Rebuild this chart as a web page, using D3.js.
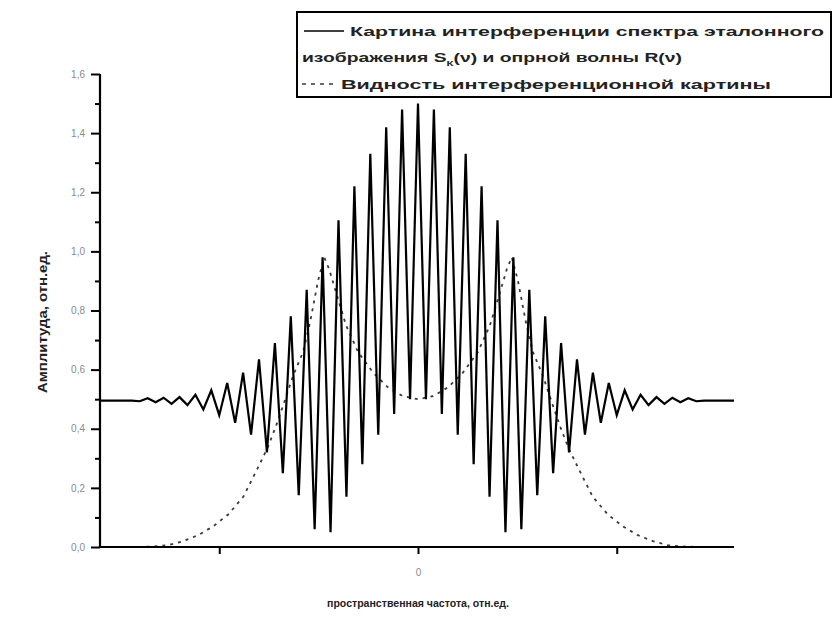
<!DOCTYPE html>
<html><head><meta charset="utf-8">
<script src="https://cdn.jsdelivr.net/npm/d3@7"></script>
<style>
html,body{margin:0;padding:0;background:#fff;}
svg{display:block;}
text{font-family:"Liberation Sans",Arial,sans-serif;}
</style></head>
<body>
<svg id="c" width="833" height="619"></svg>
<script>
// ---- data ----
const peakX = [-1.36,-1.28,-1.20,-1.12,-1.04,-0.96,-0.88,-0.80,-0.72,-0.64,-0.56,-0.48,-0.40,-0.32,-0.24,-0.16,-0.08,0,
  0.08,0.16,0.24,0.32,0.40,0.48,0.56,0.64,0.72,0.80,0.88,0.96,1.04,1.12,1.20,1.28,1.36];
const peakY = [0.503,0.505,0.507,0.515,0.53,0.555,0.59,0.635,0.69,0.78,0.87,0.98,1.105,1.22,1.33,1.42,1.48,1.50,
  1.48,1.42,1.33,1.22,1.105,0.98,0.87,0.78,0.69,0.635,0.59,0.555,0.53,0.515,0.507,0.505,0.503];
const troughX = [-1.40,-1.32,-1.24,-1.16,-1.08,-1.00,-0.92,-0.84,-0.76,-0.68,-0.60,-0.52,-0.44,-0.36,-0.28,-0.20,-0.12,-0.04,
  0.04,0.12,0.20,0.28,0.36,0.44,0.52,0.60,0.68,0.76,0.84,0.92,1.00,1.08,1.16,1.24,1.32,1.40];
const troughY = [0.493,0.49,0.484,0.48,0.465,0.446,0.42,0.38,0.32,0.25,0.175,0.06,0.05,0.17,0.28,0.38,0.45,0.50,
  0.50,0.45,0.38,0.28,0.17,0.05,0.06,0.175,0.25,0.32,0.38,0.42,0.446,0.465,0.48,0.484,0.49,0.493];
const edgeX = [-1.60,-1.44,1.44,1.59];
const edgeY = [0.495,0.495,0.495,0.495];

const visX = [-1.407,-1.332,-1.256,-1.181,-1.106,-1.03,-0.955,-0.879,-0.804,-0.754,-0.714,-0.678,-0.628,-0.578,-0.543,-0.503,-0.472,-0.447,-0.412,-0.362,-0.302,-0.226,-0.151,-0.075,0,
  0.075,0.151,0.226,0.302,0.362,0.412,0.447,0.472,0.503,0.543,0.578,0.628,0.678,0.714,0.754,0.804,0.879,0.955,1.03,1.106,1.181,1.256,1.332,1.407];
const visY = [0,0.002,0.006,0.02,0.04,0.07,0.11,0.17,0.27,0.34,0.41,0.48,0.58,0.66,0.76,0.90,0.98,0.94,0.86,0.75,0.66,0.59,0.54,0.51,0.50,
  0.51,0.54,0.59,0.66,0.75,0.86,0.94,0.98,0.90,0.76,0.66,0.58,0.48,0.41,0.34,0.27,0.17,0.11,0.07,0.04,0.02,0.006,0.002,0];

const yTicks = [0,0.2,0.4,0.6,0.8,1.0,1.2,1.4,1.6];
const yTickLabels = ["0,0","0,2","0,4","0,6","0,8","1,0","1,2","1,4","1,6"];
const yMinor = [0.1,0.3,0.5,0.7,0.9,1.1,1.3,1.5];
const xTicks = [-1,0,1];
const xTickLabels = ["","0",""];

const legend1a = "Картина интерференции спектра эталонного";
const legend1b = ["изображения S","К","(ν) и опрной волны R(ν)"];
const legend2 = "Видность интерференционной картины";
const xTitle = "пространственная частота, отн.ед.";
const yTitle = "Амплитуда, отн.ед.";

// ---- drawing ----
const svg = d3.select("#c");
const x = d3.scaleLinear().domain([-1.6,1.59]).range([100,734]);
const y = d3.scaleLinear().domain([0,1.6]).range([547,74]);

const pts = [];
edgeX.forEach((v,i)=>pts.push([v,edgeY[i]]));
peakX.forEach((v,i)=>pts.push([v,peakY[i]]));
troughX.forEach((v,i)=>pts.push([v,troughY[i]]));
pts.sort((a,b)=>a[0]-b[0]);

const line = d3.line().x(d=>x(d[0])).y(d=>y(d[1]));

const vis = visX.map((v,i)=>[v,visY[i]]);
svg.append("path").attr("d",line(vis)).attr("fill","none")
  .attr("stroke","#3a3a3a").attr("stroke-width",1.8).attr("stroke-dasharray","3,5");

svg.append("path").attr("d",line(pts)).attr("fill","none")
  .attr("stroke","#000").attr("stroke-width",2.2).attr("stroke-linejoin","miter").attr("stroke-miterlimit",4);

// axes
const yAxis = d3.axisLeft(y).tickValues(yTicks).tickSize(9).tickFormat((d,i)=>yTickLabels[i]);
const gy = svg.append("g").attr("transform","translate(100,0)").call(yAxis);
gy.select(".domain").attr("d","M0,"+y(1.6)+"V"+y(0)).attr("stroke","#000").attr("stroke-width",2.2);
gy.selectAll(".tick line").attr("stroke","#000").attr("stroke-width",2);
gy.selectAll(".tick text").attr("fill","#8a8a8a").attr("font-size",10).attr("x",-15);
const yAxisMinor = d3.axisLeft(y).tickValues(yMinor).tickSize(5).tickFormat("");
const gym = svg.append("g").attr("transform","translate(100,0)").call(yAxisMinor);
gym.select(".domain").remove();
gym.selectAll(".tick line").attr("stroke","#000").attr("stroke-width",2);

const xAxis = d3.axisBottom(x).tickValues(xTicks).tickSize(7).tickFormat((d,i)=>xTickLabels[i]);
const gx = svg.append("g").attr("transform","translate(0,547)").call(xAxis);
gx.select(".domain").attr("d","M"+x(-1.6)+",0H"+x(1.59)).attr("stroke","#000").attr("stroke-width",2.2);
gx.selectAll(".tick line").attr("stroke","#000").attr("stroke-width",2);
gx.selectAll(".tick text").attr("fill","#8a8a8a").attr("font-size",10).attr("y",22);

// axis titles
svg.append("text").attr("x",418).attr("y",607).attr("text-anchor","middle")
  .attr("font-size",11.5).attr("font-weight","bold").attr("fill","#222")
  .attr("textLength",182).attr("lengthAdjust","spacingAndGlyphs").text(xTitle);
svg.append("text").attr("transform","translate(47,322) rotate(-90)").attr("text-anchor","middle")
  .attr("font-size",12.5).attr("font-weight","bold").attr("fill","#222")
  .attr("textLength",142).attr("lengthAdjust","spacingAndGlyphs").text(yTitle);

// legend
svg.append("rect").attr("x",297).attr("y",12).attr("width",534).attr("height",85)
  .attr("fill","#fff").attr("stroke","#000").attr("stroke-width",2);
svg.append("line").attr("x1",304).attr("x2",344).attr("y1",31).attr("y2",31)
  .attr("stroke","#000").attr("stroke-width",1.7);
svg.append("text").attr("x",350).attr("y",35.5).attr("font-size",13.5).attr("font-weight","bold").attr("fill","#222")
  .attr("textLength",474).attr("lengthAdjust","spacingAndGlyphs").text(legend1a);
const t2 = svg.append("text").attr("x",302).attr("y",61.5).attr("font-size",13.5).attr("font-weight","bold").attr("fill","#222")
  .attr("textLength",380).attr("lengthAdjust","spacingAndGlyphs");
t2.append("tspan").text(legend1b[0]);
t2.append("tspan").attr("dy",4).attr("font-size",8).text(legend1b[1]);
t2.append("tspan").attr("dy",-4).text(legend1b[2]);
svg.append("line").attr("x1",302).attr("x2",336).attr("y1",84).attr("y2",84)
  .attr("stroke","#3a3a3a").attr("stroke-width",1.6).attr("stroke-dasharray","4,5");
svg.append("text").attr("x",341).attr("y",88.5).attr("font-size",13.5).attr("font-weight","bold").attr("fill","#222")
  .attr("textLength",430).attr("lengthAdjust","spacingAndGlyphs").text(legend2);
</script>
</body></html>
